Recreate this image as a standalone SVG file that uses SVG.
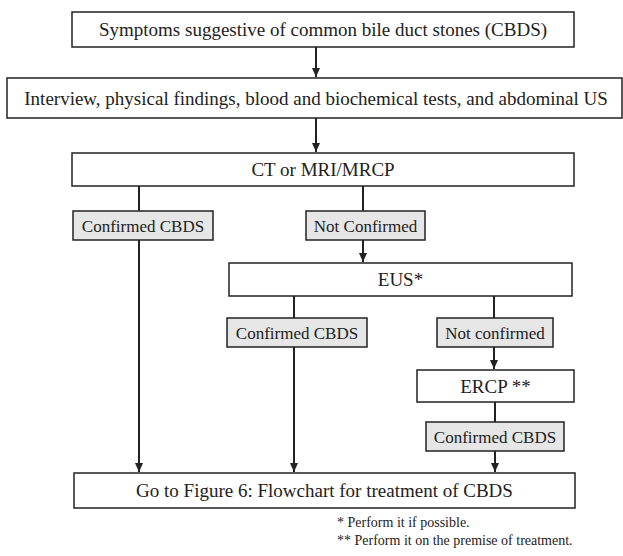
<svg xmlns="http://www.w3.org/2000/svg" width="623" height="556" viewBox="0 0 623 556">
<style>
  .box{fill:#fff;stroke:#222;stroke-width:1.5}
  .gbox{fill:#e6e6e6;stroke:#222;stroke-width:1.5}
  text{font-family:'Liberation Serif','Times New Roman',Times,'DejaVu Serif',serif;fill:#222}
  .t{font-size:19px;text-anchor:middle}
  .g{font-size:17px;text-anchor:middle}
  .fn{font-size:14px}
  .c{stroke:#222;stroke-width:2;fill:none}
  .a{marker-end:url(#arr)}
</style>
<defs>
  <marker id="arr" markerUnits="userSpaceOnUse" markerWidth="8" markerHeight="9" refX="4" refY="9" orient="0" viewBox="0 0 8 9">
    <path d="M0,0 L8,0 L4,9 z" fill="#222"/>
  </marker>
</defs>
<rect width="623" height="556" fill="#fff"/>
<g id="connectors">
  <line class="c a" x1="316" y1="47" x2="316" y2="77"/>
  <line class="c a" x1="316" y1="118" x2="316" y2="152"/>
  <line class="c" x1="139" y1="186" x2="139" y2="211"/>
  <line class="c a" x1="139" y1="240" x2="139" y2="472"/>
  <line class="c" x1="363" y1="186" x2="363" y2="211"/>
  <line class="c a" x1="363" y1="240" x2="363" y2="262"/>
  <line class="c" x1="294" y1="296" x2="294" y2="318"/>
  <line class="c a" x1="294" y1="347" x2="294" y2="472"/>
  <line class="c" x1="494" y1="296" x2="494" y2="318"/>
  <line class="c a" x1="494" y1="347" x2="494" y2="369"/>
  <line class="c" x1="495" y1="402" x2="495" y2="422"/>
  <line class="c a" x1="495" y1="451" x2="495" y2="472"/>
</g>
<g id="n-symptoms"><rect class="box" x="72" y="12" width="502" height="35"/><text class="t" x="323" y="36" font-family="Liberation Serif, serif">Symptoms suggestive of common bile duct stones (CBDS)</text></g>
<g id="n-interview"><rect class="box" x="7" y="78" width="615" height="40"/><text class="t" x="316" y="104.5">Interview, physical findings, blood and biochemical tests, and abdominal US</text></g>
<g id="n-ct"><rect class="box" x="72" y="153" width="502" height="33"/><text class="t" x="323" y="176">CT or MRI/MRCP</text></g>
<g id="n-conf1"><rect class="gbox" x="73" y="211" width="140" height="29"/><text class="g" x="143" y="231.5">Confirmed CBDS</text></g>
<g id="n-notconf1"><rect class="gbox" x="306" y="211" width="119" height="29"/><text class="g" x="365.5" y="231.5">Not Confirmed</text></g>
<g id="n-eus"><rect class="box" x="229" y="263" width="343" height="33"/><text class="t" x="400.5" y="286">EUS*</text></g>
<g id="n-conf2"><rect class="gbox" x="227" y="318" width="140" height="29"/><text class="g" x="297" y="338.5">Confirmed CBDS</text></g>
<g id="n-notconf2"><rect class="gbox" x="437" y="318" width="116" height="29"/><text class="g" x="495" y="338.5">Not confirmed</text></g>
<g id="n-ercp"><rect class="box" x="417" y="370" width="157" height="32"/><text class="t" x="495.5" y="392.5">ERCP **</text></g>
<g id="n-conf3"><rect class="gbox" x="426" y="422" width="138" height="29"/><text class="g" x="495" y="442.5">Confirmed CBDS</text></g>
<g id="n-final"><rect class="box" x="74" y="473" width="501" height="35"/><text class="t" x="324.5" y="497">Go to Figure 6: Flowchart for treatment of CBDS</text></g>
<g id="footnotes">
  <text class="fn" x="337" y="527">* Perform it if possible.</text>
  <text class="fn" x="337" y="545">** Perform it on the premise of treatment.</text>
</g>
</svg>
